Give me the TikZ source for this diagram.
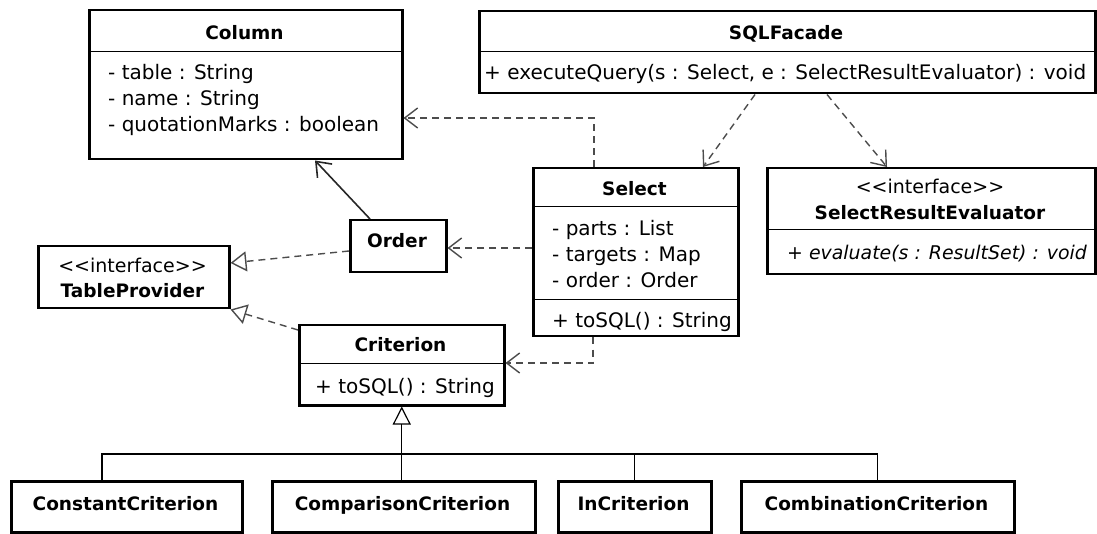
\documentclass[tikz,border=0pt]{standalone}
\usepackage{fontspec}
\setmainfont{DejaVu Sans}
\usetikzlibrary{arrows.meta,calc}
\begin{document}
\begin{tikzpicture}[x=1pt,y=-1pt,
  cls/.style={draw=black, line width=2.5pt, inner sep=0pt, anchor=north west},
  txt/.style={inner sep=0pt, anchor=base west, font=\fontsize{20}{24}\selectfont},
  ttl/.style={inner sep=0pt, anchor=base, font=\fontsize{18.5}{22}\selectfont\bfseries},
  stereo/.style={inner sep=0pt, anchor=base, font=\fontsize{19}{24}\selectfont},
  sepline/.style={line width=1pt},
  dep/.style={draw=black!70, line width=1.4pt, dash pattern=on 7pt off 5pt,
    -{Straight Barb[length=13pt,width=20pt,line width=1.4pt]}},
  real/.style={draw=black!70, line width=1.4pt, dash pattern=on 7pt off 5pt,
    -{Triangle[open,length=16pt,width=20pt,line width=1.4pt]}},
  assoc/.style={draw=black!85, line width=1.6pt,
    -{Straight Barb[length=13pt,width=20pt,line width=1.6pt]}},
  genline/.style={draw=black, line width=1.2pt},
  gentip/.style={draw=black, line width=1.2pt, -{Triangle[open,length=18pt,width=18pt,line width=1.2pt]}}
]
\useasboundingbox (0,0) rectangle (1097,534);

% ---- Column
\node[cls, minimum width=313pt, minimum height=149pt] (col) at (88,9) {};
\draw[sepline] (col.west |- 0,52) -- (col.east |- 0,52);
\node[ttl] (colT) at (244.5,40) {Column};
\node[txt] (colA1) at (108,80) {- table : String};
\node[txt] (colA2) at (108,106) {- name : String};
\node[txt] (colA3) at (108,132) {- quotationMarks : boolean};

% ---- SQLFacade
\node[cls, minimum width=616pt, minimum height=82pt] (sql) at (478,10) {};
\draw[sepline] (sql.west |- 0,52) -- (sql.east |- 0,52);
\node[ttl] (sqlT) at (786,40) {SQLFacade};
\node[txt] (sqlM) at (484,80) {+ executeQuery(s : Select, e : SelectResultEvaluator) : void};

% ---- Select
\node[cls, minimum width=205pt, minimum height=168pt] (sel) at (532,167) {};
\draw[sepline] (sel.west |- 0,207) -- (sel.east |- 0,207);
\draw[sepline] (sel.west |- 0,300) -- (sel.east |- 0,300);
\node[ttl] (selT) at (634.5,196) {Select};
\node[txt] (selA1) at (552,236) {- parts : List};
\node[txt] (selA2) at (552,262) {- targets : Map};
\node[txt] (selA3) at (552,288) {- order : Order};
\node[txt] (selM) at (552,328) {+ toSQL() : String};

% ---- SelectResultEvaluator
\node[cls, minimum width=328pt, minimum height=106pt] (sre) at (766,167) {};
\draw[sepline] (sre.west |- 0,230) -- (sre.east |- 0,230);
\node[stereo] (sreS) at (930,194) {<{}<interface>{}>};
\node[ttl] (sreT) at (930,220) {SelectResultEvaluator};
\node[txt, font=\fontsize{18.9}{22}\selectfont\itshape] (sreM) at (787,260) {+ evaluate(s : ResultSet) : void};

% ---- Order
\node[cls, minimum width=96pt, minimum height=52pt] (ord) at (349,219) {};
\node[ttl] (ordT) at (397,248) {Order};

% ---- TableProvider
\node[cls, minimum width=191pt, minimum height=62pt] (tp) at (37,245) {};
\node[stereo] (tpS) at (132.5,273) {<{}<interface>{}>};
\node[ttl] (tpT) at (132.5,298) {TableProvider};

% ---- Criterion
\node[cls, minimum width=205pt, minimum height=80pt] (cri) at (298,324) {};
\draw[sepline] (cri.west |- 0,363) -- (cri.east |- 0,363);
\node[ttl] (criT) at (400.5,352) {Criterion};
\node[txt] (criM) at (315,393) {+ toSQL() : String};

% ---- subclasses
\node[cls, minimum width=231pt, minimum height=51pt] (c1) at (10,480) {};
\node[ttl] (c1T) at (125.5,510) {ConstantCriterion};
\node[cls, minimum width=263pt, minimum height=51pt] (c2) at (271,480) {};
\node[ttl] (c2T) at (402.5,510) {ComparisonCriterion};
\node[cls, minimum width=153pt, minimum height=51pt] (c3) at (557,480) {};
\node[ttl] (c3T) at (633.5,510) {InCriterion};
\node[cls, minimum width=273pt, minimum height=51pt] (c4) at (740,480) {};
\node[ttl] (c4T) at (876.5,510) {CombinationCriterion};

% ---- connectors
\draw[dep] ($(sel.north west)+(62,0)$) |- ($(col.north east)+(0,109)$);
\draw[dep] ($(sql.south west)+(277,0)$) -- ($(sel.north west)+(171,0)$);
\draw[dep] ($(sql.south west)+(349,0)$) -- ($(sre.north west)+(121,0)$);
\draw[dep] ($(sel.north west)+(0,81)$) -- ($(ord.north east)+(0,29)$);
\draw[dep] ($(sel.south west)+(61,0)$) |- ($(cri.north east)+(0,39)$);
\draw[assoc] ($(ord.north west)+(21,0)$) -- ($(col.south west)+(227,0)$);
\draw[real] ($(ord.north west)+(0,32)$) -- ($(tp.north east)+(0,18)$);
\draw[real] ($(cri.north west)+(0,6)$) -- (tp.south east);

\coordinate (junc) at (cri.south |- 0,454);
\draw[genline] ($(c1.north west)+(92,0)$) |- (junc) -| (c4.north);
\draw[genline] (c3.north) -- (c3.north |- junc);
\draw[gentip] (cri.south |- c2.north) -- (cri.south);
\end{tikzpicture}
\end{document}
